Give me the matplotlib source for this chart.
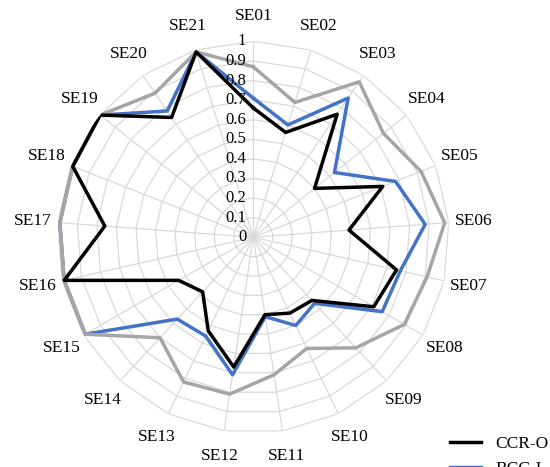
import numpy as np
import matplotlib
matplotlib.use("Agg")
import matplotlib.pyplot as plt

categories = ["SE%02d" % i for i in range(1, 22)]
ccr_o = [0.66, 0.56, 0.76, 0.40, 0.71, 0.49, 0.75, 0.71, 0.44, 0.43, 0.40,
         0.67, 0.53, 0.38, 0.44, 0.99, 0.76, 0.99, 1.00, 0.74, 0.99]
bcc_i = [0.71, 0.60, 0.86, 0.53, 0.78, 0.88, 0.77, 0.76, 0.46, 0.50, 0.41,
         0.71, 0.56, 0.57, 0.99, 0.99, 0.99, 0.99, 1.00, 0.78, 0.99]
grey_s = [0.87, 0.72, 0.96, 0.85, 0.92, 0.98, 0.91, 0.89, 0.77, 0.63, 0.71,
          0.81, 0.82, 0.70, 0.99, 0.99, 0.99, 0.99, 1.00, 0.89, 0.99]
ticks = [0, 0.1, 0.2, 0.3, 0.4, 0.5, 0.6, 0.7, 0.8, 0.9, 1]
tick_labels = ["0", "0.1", "0.2", "0.3", "0.4", "0.5", "0.6", "0.7", "0.8", "0.9", "1"]

plt.rcParams['font.family'] = ['Liberation Serif', 'DejaVu Serif']
fig = plt.figure(figsize=(5.5, 4.67), dpi=100)
ax = fig.add_axes([0.104, 0.0725, 0.713, 0.839], projection='polar')
ax.set_theta_zero_location('N')
ax.set_theta_direction(-1)
ax.set_ylim(0, 1)
ax.axis('off')

n = len(categories)
ang = np.linspace(0, 2 * np.pi, n, endpoint=False)
angc = np.append(ang, ang[0])

for t in ticks[1:]:
    ax.plot(angc, [t] * (n + 1), color='#d9d9d9', lw=0.9, zorder=1)
for a in ang:
    ax.plot([a, a], [0, 1], color='#d9d9d9', lw=0.9, zorder=1)

def closed(v):
    return list(v) + [v[0]]

lb, = ax.plot(angc, closed(bcc_i), color='#4472c4', lw=2.5, zorder=3, label='BCC-I')
lg, = ax.plot(angc, closed(grey_s), color='#a5a5a5', lw=2.5, zorder=4, label='ALL')
lk, = ax.plot(angc, closed(ccr_o), color='black', lw=2.5, zorder=5, label='CCR-O')

for t, lab in zip(ticks, tick_labels):
    ax.annotate(lab, (0, t), xytext=(-5, 0), textcoords='offset points',
                ha='right', va='center', fontsize=12, zorder=6)

for a, c in zip(ang, categories):
    ax.text(a, 1.13, c, ha='center', va='center', fontsize=12.5)

fig.legend([lk, lb, lg], ['CCR-O', 'BCC-I', 'ALL'], loc='upper left',
           bbox_to_anchor=(0.79, 0.1), frameon=False, fontsize=12.5,
           handlelength=1.8, labelspacing=0.5)
fig.savefig('out.png', dpi=100)
